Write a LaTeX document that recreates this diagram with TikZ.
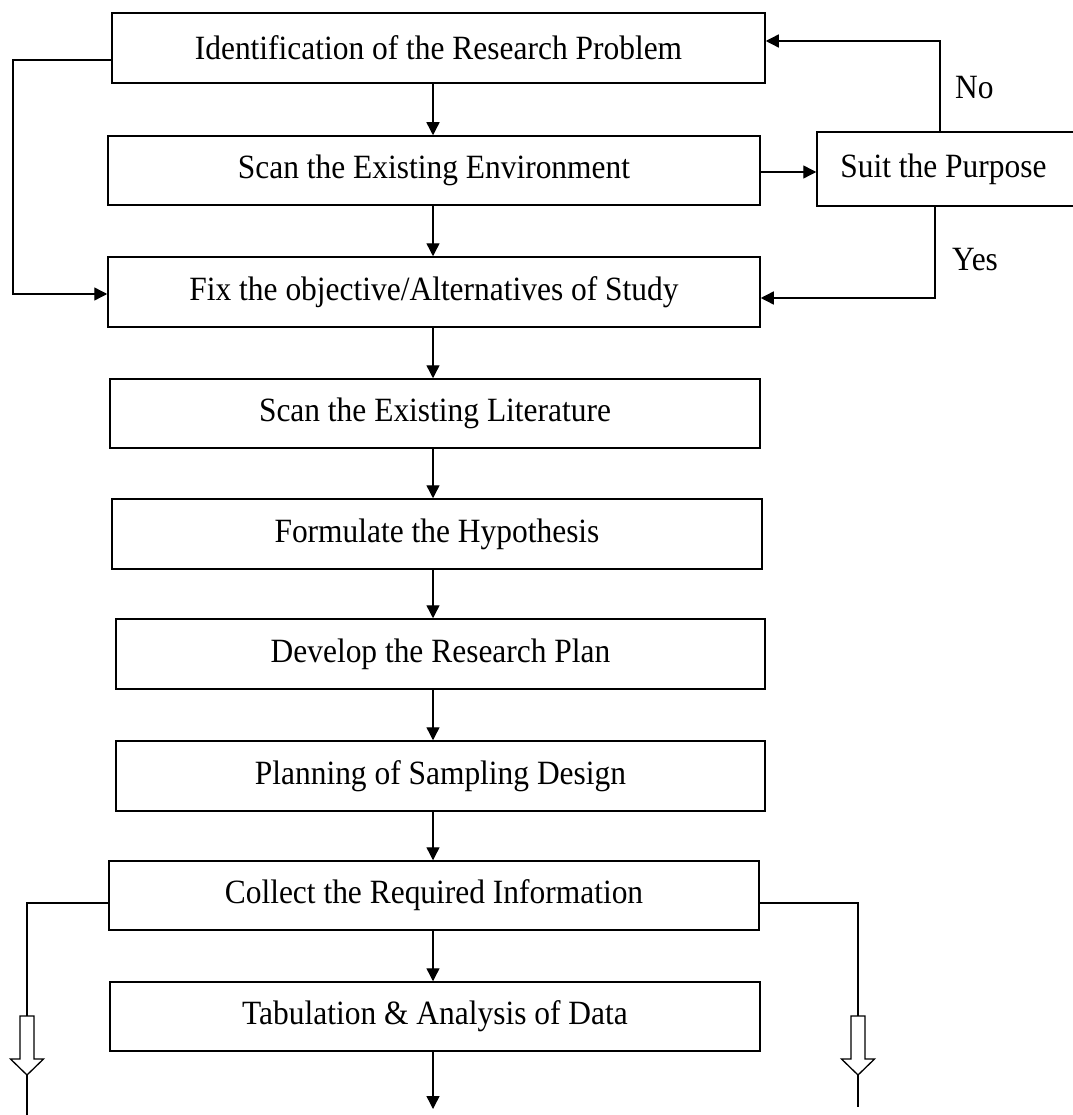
\documentclass[tikz,border=0pt]{standalone}
\usepackage{fontspec}
\setmainfont{Liberation Serif}[FakeStretch=0.925]
\usetikzlibrary{arrows.meta}

\tikzset{
  stepbox/.style={draw=black, line width=1.5pt, inner sep=0pt, fill=white,
    font=\fontsize{34}{40}\selectfont},
  conn/.style={draw=black, line width=1.4pt},
  arr/.style={conn, -{Triangle[length=13pt,width=13pt]}},
  lbl/.style={font=\fontsize{34}{40}\selectfont, inner sep=0pt},
  hollow/.style={draw=black, line width=1.3pt, fill=white, line join=miter},
}

% place a box by its left, top, right and bottom edges
\newcommand{\stepnode}[6]{%
  \node[stepbox, minimum width=#4-#2, minimum height=#5-#3]
    (#1) at ({(#2+#4)/2},{(#3+#5)/2}) {#6};}

% hollow block arrow pointing down: name, x, top y
\newcommand{\blockarrow}[3]{%
  \coordinate (#1tail) at (#2,#3);
  \coordinate (#1tip) at (#2,#3+59);
  \draw[hollow] ($(#1tail)+(-7,0)$) -- ($(#1tail)+(7,0)$) -- ++(0,43)
    -- ++(9.5,0) -- (#1tip) -- ++(-16.5,-16) -- ++(9.5,0) -- cycle;}

\usetikzlibrary{calc}

\begin{document}
\begin{tikzpicture}[x=1pt, y=-1pt]
\useasboundingbox (0,0) rectangle (1072,1115);

% main column of steps
\stepnode{ident}{112}{13}{765}{83}{Identification of the Research Problem}
\stepnode{env}{108}{136}{760}{205}{Scan the Existing Environment}
\stepnode{suit}{817}{132}{1076}{206}{\hspace*{-6pt}Suit the Purpose}
\stepnode{fix}{108}{257}{760}{327}{Fix the objective/Alternatives of Study}
\stepnode{lit}{110}{379}{760}{448}{Scan the Existing Literature}
\stepnode{form}{112}{499}{762}{569}{Formulate the Hypothesis}
\stepnode{dev}{116}{619}{765}{689}{Develop the Research Plan}
\stepnode{plan}{116}{741}{765}{811}{Planning of Sampling Design}
\stepnode{coll}{109}{861}{759}{930}{Collect the Required Information}
\stepnode{tab}{110}{982}{760}{1051}{Tabulation \& Analysis of Data}

% downward flow
\coordinate (ax) at (433,0);
\foreach \a/\b in {ident/env, env/fix, fix/lit, lit/form, form/dev, dev/plan, plan/coll, coll/tab}
  \draw[arr] (ax |- \a.south) -- (ax |- \b.north);
\coordinate (tabend) at (433,1109);
\draw[arr] (ax |- tab.south) -- (tabend);

% bypass from the problem straight to the objectives
\coordinate (lloop) at (13,60);
\coordinate (lin) at (13,294);
\draw[arr] (lloop -| ident.west) -- (lloop) -- (lin) -- (lin -| fix.west);

% check of the environment
\coordinate (envy) at (0,172);
\draw[arr] (envy -| env.east) -- (envy -| suit.west);
\coordinate (noc) at (940,41);
\draw[arr] (noc |- suit.north) -- (noc) -- (noc -| ident.east);
\coordinate (yesc) at (935,298);
\draw[arr] (yesc |- suit.south) -- (yesc) -- (yesc -| fix.east);
\node[lbl, anchor=west] (nolbl) at (955,88) {No};
\node[lbl, anchor=west] (yeslbl) at (952,260) {Yes};

% side outputs of the collected information
\blockarrow{la}{27}{1016}
\blockarrow{ra}{858}{1016}
\coordinate (lc) at (27,903);
\coordinate (rc) at (858,903);
\coordinate (lend) at (27,1116);
\coordinate (rend) at (858,1107);
\draw[conn] (lc -| coll.west) -- (lc) -- (latail);
\draw[conn] (latip) -- (lend);
\draw[conn] (rc -| coll.east) -- (rc) -- (ratail);
\draw[conn] (ratip) -- (rend);
\end{tikzpicture}
\end{document}
